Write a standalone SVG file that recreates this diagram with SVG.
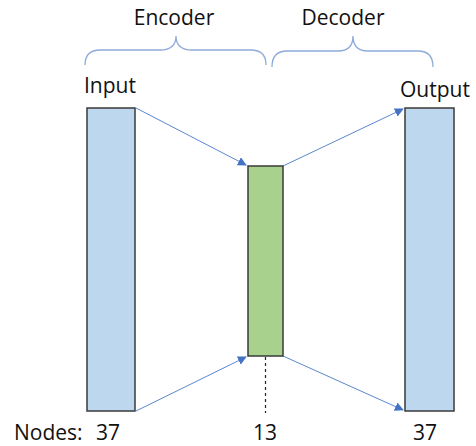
<svg xmlns="http://www.w3.org/2000/svg" width="476" height="446" viewBox="0 0 476 446">
<style>
.t{font-family:"Open Sans","Liberation Sans",sans-serif;font-size:21px;fill:#111}
.layer{stroke:#3a3a3a;stroke-width:1.5}
.conn{stroke:#5b87d0;stroke-width:1;fill:none}
.brace{stroke:#8eaadb;stroke-width:1.3;fill:none}
</style>
<defs>
<marker id="ah" viewBox="0 0 10 10" refX="9" refY="5" markerWidth="9" markerHeight="9" markerUnits="userSpaceOnUse" orient="auto">
<path d="M0,0 L10,5 L0,10 z" fill="#4472c4"/>
</marker>
</defs>
<rect width="476" height="446" fill="#fff"/>
<g id="braces">
<path class="brace" d="M85,65 Q85,50 100,50 L160,50 Q176,50 176,36 Q176,50 192,50 L251,50 Q266,50 266,65"/>
<path class="brace" d="M272,67 Q272,51 287,51 L338,51 Q353,51 353,36 Q353,51 368,51 L418,51 Q433,51 433,67"/>
</g>
<g id="connectors">
<line class="conn" x1="136" y1="108" x2="246" y2="165" marker-end="url(#ah)"/>
<line class="conn" x1="136" y1="411" x2="246" y2="357" marker-end="url(#ah)"/>
<line class="conn" x1="283" y1="166" x2="403" y2="109" marker-end="url(#ah)"/>
<line class="conn" x1="283" y1="356" x2="403" y2="410" marker-end="url(#ah)"/>
<line x1="265.5" y1="357" x2="265.5" y2="413" stroke="#222" stroke-width="1.2" stroke-dasharray="3,3"/>
</g>
<g id="input">
<rect class="layer" x="87" y="108" width="48" height="303" fill="#bdd7ee"/>
<text class="t" x="84" y="93">Input</text>
</g>
<g id="bottleneck">
<rect class="layer" x="248" y="166" width="35" height="190" fill="#a9d18e"/>
</g>
<g id="output">
<rect class="layer" x="405" y="108" width="49" height="303" fill="#bdd7ee"/>
<text class="t" x="400" y="97">Output</text>
</g>
<g id="labels">
<text class="t" x="174" y="25" text-anchor="middle">Encoder</text>
<text class="t" x="343" y="25" text-anchor="middle">Decoder</text>
<text class="t" x="14" y="440">Nodes:</text>
<text class="t" x="108" y="440" text-anchor="middle">37</text>
<text class="t" x="265" y="440" text-anchor="middle">13</text>
<text class="t" x="425" y="440" text-anchor="middle">37</text>
</g>
</svg>
